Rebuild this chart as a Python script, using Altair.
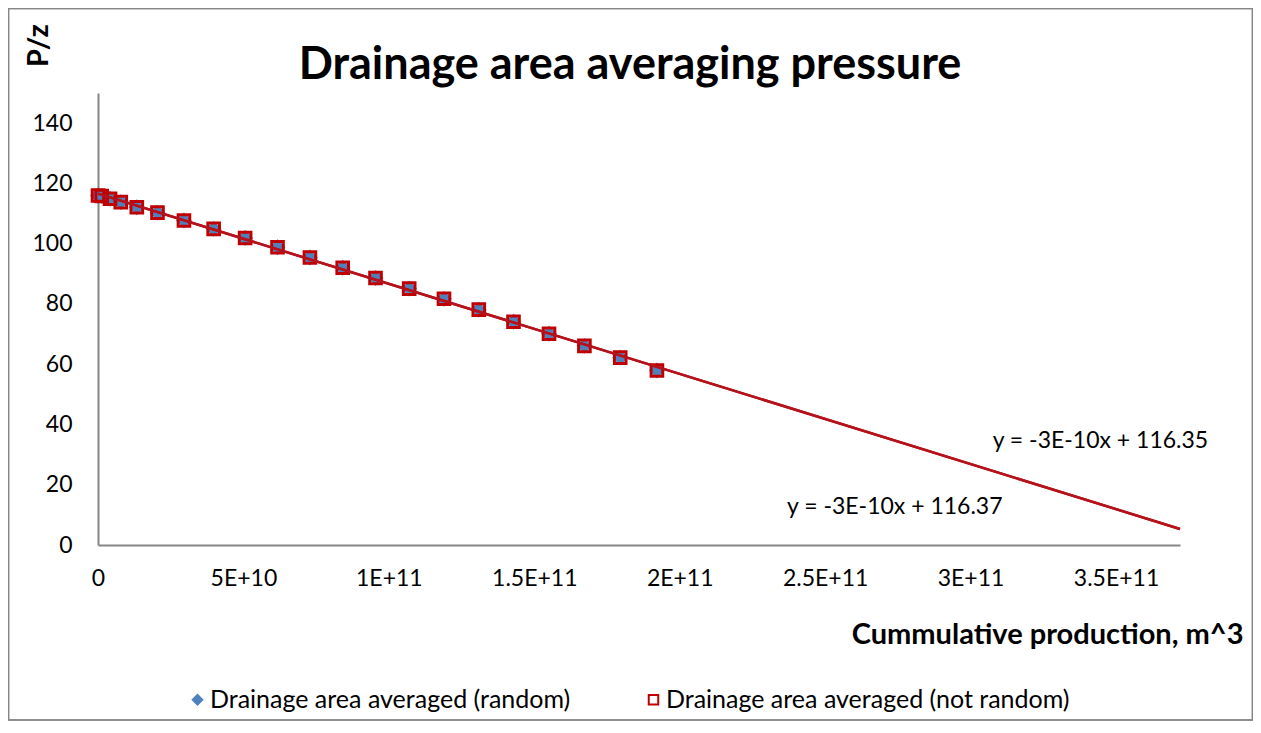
import altair as alt
import pandas as pd

# ---- data ----
cum_production = [0.0, 1.28e9, 4.14e9, 7.83e9, 1.334e10, 2.045e10, 2.955e10, 3.976e10,
                  5.058e10, 6.172e10, 7.286e10, 8.413e10, 9.541e10, 1.0699e11, 1.1895e11,
                  1.3092e11, 1.4285e11, 1.5506e11, 1.6723e11, 1.7954e11, 1.9216e11]
pz_random = [116.0, 115.8, 114.9, 113.8, 112.1, 110.3, 107.7, 104.9, 101.9, 98.8, 95.4,
             92.0, 88.6, 85.1, 81.7, 78.1, 74.1, 70.1, 66.1, 62.2, 57.9]
pz_not_random = [116.0, 115.8, 114.9, 113.8, 112.1, 110.3, 107.7, 104.9, 101.9, 98.8, 95.4,
                 92.0, 88.6, 85.1, 81.7, 78.1, 74.1, 70.1, 66.1, 62.2, 57.9]
series_names = ["Drainage area averaged (random)", "Drainage area averaged (not random)"]

x_tick_values = [0, 5e10, 1e11, 1.5e11, 2e11, 2.5e11, 3e11, 3.5e11]
x_tick_labels = ["0", "5E+10", "1E+11", "1.5E+11", "2E+11", "2.5E+11", "3E+11", "3.5E+11"]
y_tick_values = [0, 20, 40, 60, 80, 100, 120, 140]
x_max = 3.72e11
y_max = 150

equation_labels = ["y = -3E-10x + 116.35", "y = -3E-10x + 116.37"]
equation_x = [3.076e11, 2.369e11]
equation_y = [34.5, 12.5]

# ---- tables ----
df = pd.DataFrame({
    "x": cum_production * 2,
    "y": pz_random + pz_not_random,
    "series": [series_names[0]] * len(cum_production) + [series_names[1]] * len(cum_production),
})
eq_df = pd.DataFrame({"label": equation_labels, "x": equation_x, "y": equation_y})

FONT = "Lato"
BLUE = "#4F81BD"
RED = "#C00000"
LINE_RED = "#B5121B"

label_expr = ""
for v, l in zip(x_tick_values, x_tick_labels):
    label_expr += f"datum.value == {v} ? '{l}' : "
label_expr += "''"

x_enc = alt.X("x:Q",
              scale=alt.Scale(domain=[0, x_max], nice=False, zero=True),
              axis=alt.Axis(values=x_tick_values, labelExpr=label_expr,
                            title="Cummulative production, m^3",
                            titleX=1145, titleY=98, titleAlign="right",
                            titleBaseline="alphabetic", labelFlush=False,
                            labelPadding=22, labelBaseline="top"))
y_enc = alt.Y("y:Q",
              scale=alt.Scale(domain=[0, y_max], nice=False),
              axis=alt.Axis(values=y_tick_values, title="P/z",
                            titleX=-60, titleY=-48, titleAngle=270,
                            titleAlign="center", titleBaseline="middle",
                            labelPadding=26, labelFlush=False))

legend = alt.Legend(title=None, orient="none", legendX=87, legendY=594,
                    direction="horizontal", labelFont=FONT, labelFontSize=25,
                    labelColor="black", labelLimit=0, symbolSize=90, symbolStrokeWidth=2,
                    columnPadding=70, labelOffset=0)

points = alt.Chart(df).mark_point(size=135, strokeWidth=3, opacity=1).encode(
    x=x_enc,
    y=y_enc,
    shape=alt.Shape("series:N", scale=alt.Scale(domain=series_names, range=["diamond", "square"]), legend=legend),
    fill=alt.Fill("series:N", scale=alt.Scale(domain=series_names, range=[BLUE, "transparent"]), legend=legend),
    stroke=alt.Stroke("series:N", scale=alt.Scale(domain=series_names, range=[BLUE, RED]), legend=legend),
    order=alt.Order("series:N", sort="descending"),
)

trend = alt.Chart(df).transform_regression(
    "x", "y", groupby=["series"], extent=[0, x_max]
).mark_line(color=LINE_RED, strokeWidth=2.5).encode(
    x="x:Q", y="y:Q", detail="series:N"
)

eq_text = alt.Chart(eq_df).mark_text(align="left", baseline="middle", font=FONT,
                                     fontSize=23, color="black").encode(
    x="x:Q", y="y:Q", text="label:N"
)

border = alt.Chart(eq_df).mark_rect(fill="transparent", stroke="#868686", strokeWidth=1.5).encode(
    x=alt.value(-89.5), x2=alt.value(1154.5), y=alt.value(-84.5), y2=alt.value(627)
)

chart = alt.layer(border, points, trend, eq_text).properties(
    width=1082, height=452,
    background="white",
    title=alt.TitleParams("Drainage area averaging pressure", font=FONT, fontSize=45,
                          fontWeight="bold", color="black", anchor="middle", dx=-9,
                          baseline="bottom", dy=129),
    autosize=alt.AutoSizeParams(type="none"),
    padding={"left": 90, "top": 85, "right": 73, "bottom": 178},
).configure_view(stroke=None).configure_axis(
    grid=False, ticks=False, domainColor="#868686", domainWidth=2,
    labelFont=FONT, labelFontSize=23, labelColor="black",
    titleFont=FONT, titleFontSize=29, titleFontWeight="bold", titleColor="black",
)

chart.save("out.html", embed_options={"renderer": "svg", "actions": False})
